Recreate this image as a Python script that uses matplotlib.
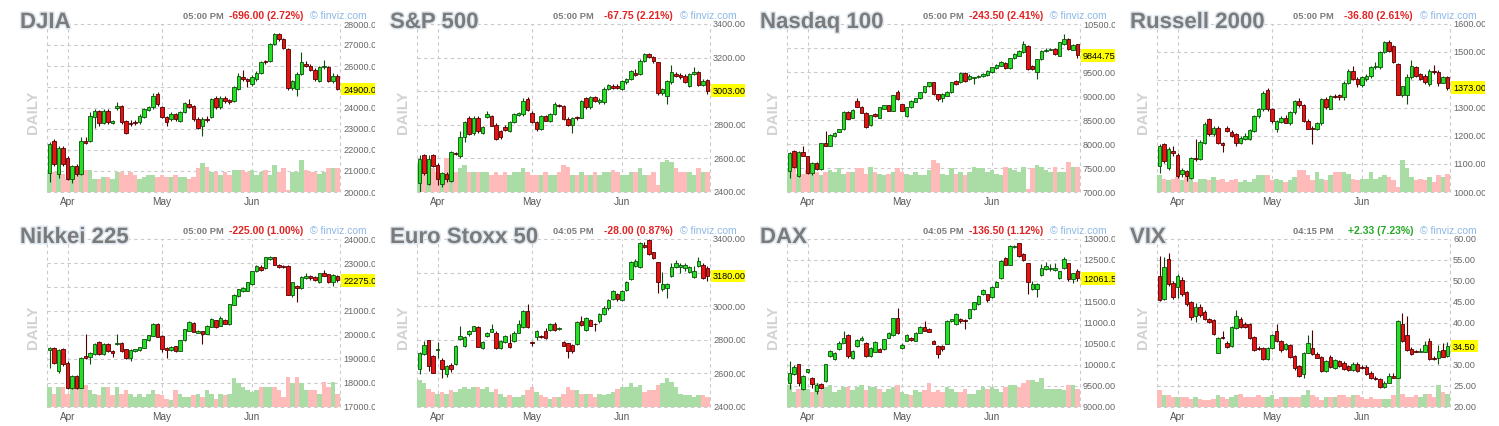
import matplotlib
matplotlib.use('Agg')
import matplotlib.pyplot as plt
import matplotlib.transforms as mtrans
import matplotlib.patheffects as pe
import numpy as np

W, H = 1499, 427
plt.rcParams['font.family'] = ['Liberation Sans', 'DejaVu Sans']

# ---------------- data ----------------
months = ['Apr', 'May', 'Jun']
month_idx = [4, 25, 45]

names = ['DJIA', 'S&P 500', 'Nasdaq 100', 'Russell 2000',
         'Nikkei 225', 'Euro Stoxx 50', 'DAX', 'VIX']
times = ['05:00 PM', '05:00 PM', '05:00 PM', '05:00 PM',
         '05:00 PM', '04:05 PM', '04:05 PM', '04:15 PM']
changes = ['-696.00 (2.72%)', '-67.75 (2.21%)', '-243.50 (2.41%)', '-36.80 (2.61%)',
           '-225.00 (1.00%)', '-28.00 (0.87%)', '-136.50 (1.12%)', '+2.33 (7.23%)']
y_min = [20000, 2400, 7000, 1000, 17000, 2400, 9000, 20]
y_max = [28000, 3400, 10500, 1600, 24000, 3400, 13000, 60]
y_step = [1000, 200, 500, 100, 1000, 200, 500, 5]

djia_open = [20925,22435,20846,22117,21640,20607,21243,20846,22435,22435,23550,23850,23300,23866,23300,24000,24104,23390,23300,23330,23310,23548,23914,24025,24660,24025,23548,23469,23708,23390,23787,24184,24104,23469,23150,23500,23548,24470,24025,24470,24375,24343,24900,25456,25376,25138,25376,25663,26235,26251,27046,27523,27284,26807,24931,24900,25615,26092,26013,25822,25300,25930,25933,25297,25536]
djia_high = [22400,22500,22200,22200,21700,21300,21350,22600,22600,23787,23950,23900,23950,23950,23450,24300,24150,23450,23450,23450,23700,24000,24100,24700,24750,24100,23600,23800,23750,23850,24300,24450,24150,23550,23550,23600,24500,24550,24550,24550,24450,25050,25650,25800,25450,25550,25750,26250,26300,27100,27550,27560,27350,26850,25350,25700,26650,26250,26100,25900,26000,26300,26000,25650,25600]
djia_low = [20480,21250,20686,21250,20550,20450,20750,20800,22300,22400,23050,23150,23250,23250,23250,23900,23250,22750,23150,23200,23250,23500,23850,23950,24100,23500,23150,23400,23400,23350,23750,24000,23400,23000,22670,23350,23500,23950,23950,24250,24200,24300,24850,25300,25000,25050,25300,25600,26100,26200,27000,27200,26800,24850,24850,24580,25550,25950,25750,25300,25250,25850,25250,25200,24850]
djia_close = [22276,21323,22117,21323,20607,21243,20846,22435,22350,23628,23866,23300,23866,23310,23380,24104,23310,22833,23250,23280,23628,23945,24025,24582,24184,23548,23310,23708,23469,23787,24232,24025,23469,23071,23469,23450,24423,24025,24470,24311,24295,24979,25504,25400,25297,25456,25663,26172,26172,27046,27523,27284,26839,24931,25300,25615,26172,26013,25822,25376,25933,26000,25297,25536,24900]
djia_vol = [12,12,12,11,8,12,15,15,13,13,8,8,9,9,8,12,12,10,12,10,8,9,10,10,9,10,9,9,10,9,9,8,9,14,17,15,12,12,10,12,10,13,13,13,12,13,10,12,13,10,16,12,14,1,12,12,19,13,12,12,11,12,14,14,14]

sp_open = [2456,2619,2446,2619,2559,2446,2505,2466,2635,2615,2730,2843,2754,2843,2754,2849,2853,2798,2764,2784,2764,2814,2857,2863,2953,2873,2814,2774,2853,2823,2863,2917,2913,2837,2798,2845,2843,2957,2903,2963,2935,2933,3012,3032,3030,3012,3052,3072,3108,3102,3181,3221,3201,3171,2988,2973,3052,3102,3096,3092,3032,3102,3116,3036,3068]
sp_high = [2620,2625,2620,2625,2570,2520,2520,2645,2640,2764,2820,2850,2850,2850,2790,2880,2860,2810,2770,2800,2820,2870,2875,2960,2963,2880,2820,2860,2860,2870,2935,2925,2920,2845,2845,2855,2950,2965,2970,2970,2960,3025,3045,3045,3045,3068,3080,3128,3130,3190,3228,3228,3210,3175,3020,3065,3155,3115,3110,3100,3110,3142,3122,3075,3075]
sp_low = [2396,2500,2440,2550,2440,2430,2460,2460,2620,2600,2700,2740,2740,2750,2745,2840,2790,2710,2715,2765,2760,2810,2850,2855,2880,2810,2764,2770,2820,2815,2860,2905,2830,2790,2754,2830,2840,2895,2895,2935,2925,2925,3005,3015,3015,3005,3045,3065,3090,3095,3175,3195,3170,2980,2975,2925,3045,3085,3075,3050,3025,3095,3030,3030,2985]
sp_close = [2599,2511,2599,2555,2476,2515,2476,2639,2625,2730,2814,2744,2843,2764,2784,2867,2794,2718,2730,2770,2814,2863,2873,2943,2889,2814,2774,2853,2823,2863,2923,2909,2837,2798,2843,2838,2943,2903,2963,2943,2950,3016,3036,3022,3020,3062,3072,3122,3096,3181,3221,3201,3181,2988,3012,3062,3112,3092,3082,3052,3102,3116,3036,3062,3003]
sp_vol = [16,14,12,14,12,10,20,18,12,14,16,12,12,12,12,12,10,12,10,12,10,12,12,14,12,10,10,10,12,10,10,12,16,15,10,10,12,10,10,12,10,12,12,13,12,10,10,12,12,14,10,10,12,4,18,19,18,14,12,12,12,10,14,12,12]

nq_open = [7438,7856,7334,7835,7752,7404,7612,7473,8016,7960,8169,8253,8308,8677,8552,8900,8781,8656,8392,8621,8552,8726,8809,8691,9074,8830,8587,8761,8879,8948,9074,9199,9282,9039,8948,9004,9074,9317,9282,9477,9352,9366,9387,9408,9435,9491,9575,9630,9686,9575,9783,9839,9909,10048,9620,9491,9769,9929,9964,9978,9839,10083,10187,9964,10083]
nq_high = [7830,7880,7850,7960,7760,7620,7625,8030,8274,8200,8240,8320,8690,8690,8720,8950,8790,8670,8610,8640,8780,8820,8820,9030,9130,8840,8770,8910,8960,9090,9210,9300,9300,9050,9060,9100,9300,9330,9490,9490,9460,9400,9440,9480,9540,9610,9660,9720,9700,9800,9890,9960,10140,10070,9640,9780,9960,9990,10000,9990,10130,10291,10200,10080,10090]
nq_low = [7285,7500,7320,7740,7380,7348,7460,7460,7950,7950,8150,8240,8300,8520,8540,8770,8640,8340,8380,8560,8540,8720,8680,8680,8920,8680,8560,8750,8870,8940,9060,9190,9030,8900,8880,8990,9060,9230,9270,9300,9330,9250,9370,9390,9420,9480,9560,9620,9560,9560,9770,9830,9900,9540,9540,9350,9760,9920,9950,9860,9830,10070,9960,9950,9800]
nq_close = [7807,7529,7835,7752,7390,7612,7473,8016,7960,8183,8225,8308,8677,8531,8705,8781,8656,8364,8600,8573,8761,8809,8691,9018,8934,8691,8761,8900,8948,9074,9199,9282,9039,8934,9039,9074,9282,9248,9477,9317,9408,9387,9420,9456,9526,9595,9644,9700,9575,9783,9874,9943,10083,9561,9570,9769,9943,9964,9978,9874,10117,10187,9978,10062,9844.75]
nq_vol = [14,15,11,11,13,11,12,10,12,13,12,14,11,12,12,14,14,11,15,12,11,10,11,12,14,12,11,10,12,10,10,13,19,17,11,10,14,11,12,10,12,15,14,14,12,13,11,10,15,14,13,12,15,2,14,16,15,13,12,15,12,12,18,15,15]

rut_open = [1093,1171,1087,1147,1131,1063,1075,1050,1123,1119,1176,1262,1206,1230,1176,1227,1215,1206,1176,1191,1191,1218,1270,1296,1365,1296,1224,1250,1266,1248,1284,1326,1310,1254,1230,1224,1246,1332,1298,1344,1346,1338,1391,1433,1403,1382,1403,1413,1445,1445,1499,1537,1520,1457,1346,1346,1409,1445,1420,1415,1385,1433,1429,1391,1409]
rut_high = [1170,1175,1160,1165,1140,1085,1080,1125,1188,1185,1250,1265,1235,1235,1180,1235,1220,1210,1200,1210,1225,1275,1300,1360,1370,1300,1258,1270,1275,1290,1330,1335,1315,1260,1235,1250,1335,1340,1348,1350,1350,1395,1440,1450,1410,1415,1420,1450,1465,1505,1540,1542,1525,1460,1380,1420,1470,1450,1425,1420,1440,1455,1435,1415,1415]
rut_low = [1069,1105,1080,1130,1050,1055,1039,1045,1110,1115,1170,1200,1200,1170,1143,1215,1195,1165,1170,1185,1185,1215,1265,1290,1290,1248,1215,1245,1245,1240,1280,1305,1250,1224,1171,1220,1240,1298,1295,1335,1330,1330,1385,1400,1375,1375,1398,1408,1440,1440,1495,1500,1460,1345,1340,1314,1405,1410,1400,1385,1380,1420,1380,1388,1365]
rut_close = [1165,1111,1153,1138,1057,1079,1057,1123,1117,1179,1242,1206,1230,1176,1167,1218,1200,1176,1194,1200,1221,1272,1296,1355,1296,1254,1254,1266,1248,1284,1326,1310,1254,1224,1224,1246,1332,1302,1344,1338,1338,1391,1433,1403,1385,1409,1413,1445,1451,1499,1534,1505,1463,1346,1377,1409,1451,1415,1403,1394,1433,1427,1391,1409,1373]
rut_vol = [10,8,7,8,9,7,9,12,6,8,8,7,9,7,8,6,7,8,6,7,6,8,10,10,10,7,8,7,6,7,9,13,13,10,7,12,8,7,10,12,12,12,11,8,7,8,8,12,8,9,10,9,7,3,19,14,9,7,8,7,9,6,10,9,11]

nk_open = [19365,19448,18502,19406,18850,17778,18293,17806,19128,19086,19198,19727,19198,19643,19337,19643,19685,19406,19058,19337,19365,19476,19782,19963,20450,19963,19448,19365,19546,19337,19782,20172,20520,20102,20172,20061,20339,20617,20381,20617,20450,21258,21634,21815,21842,22121,22650,22845,22789,23165,23234,22928,22886,22886,21675,22051,21954,22371,22469,22427,22190,22566,22538,22190,22469]
nk_high = [19500,19500,19400,19450,18900,18350,18320,19100,20033,19300,19650,19750,19660,19680,19360,20033,19700,19420,19420,19420,19520,19840,20020,20520,20500,19980,19500,19560,19560,19800,20260,20600,20560,20200,20180,20420,20700,20640,20780,20650,21300,21700,21930,21980,22210,22680,22920,22900,23260,23300,23260,22950,22920,22900,22200,22100,22440,22600,22500,22450,22600,22700,22560,22550,22520]
nk_low = [18641,18800,18400,18700,17750,17750,17750,17780,19000,18800,19150,19150,19150,19300,19100,19600,19300,18980,18900,19300,19350,19460,19760,19940,19900,19300,19058,19340,19300,19320,19760,20150,20120,20080,19643,20040,20320,20300,20360,20440,20430,21240,21600,21800,21820,22100,22630,22680,22770,23140,22900,22800,22800,21650,21600,21355,21930,22350,22300,22250,22170,22440,22150,22050,22200]
nk_close = [19448,18850,19365,18780,17778,18293,17778,19058,19031,19267,19615,19198,19643,19337,19267,19685,19337,19031,19365,19406,19504,19824,20005,20450,19921,19406,19365,19504,19337,19782,20242,20562,20144,20172,20061,20381,20659,20339,20729,20450,21286,21675,21912,21954,22190,22650,22886,22705,23234,23234,22928,22817,22817,21675,22190,21954,22427,22469,22371,22288,22566,22469,22190,22497,22275]
nk_vol = [12,8,12,12,8,12,16,17,13,10,8,7,12,12,7,12,8,10,8,6,8,6,8,10,8,7,5,4,10,8,6,6,7,8,6,10,8,5,8,7,8,17,14,12,10,9,10,12,12,12,12,10,6,18,14,18,14,10,10,10,8,15,12,15,8]

sx_open = [2625,2718,2798,2704,2740,2678,2595,2651,2655,2804,2764,2833,2853,2877,2750,2823,2849,2843,2750,2784,2778,2790,2843,2877,2969,2784,2814,2823,2853,2857,2897,2865,2784,2778,2770,2774,2909,2857,2917,2897,2909,2953,2988,3042,3072,3036,3096,3161,3241,3235,3366,3394,3320,3261,3102,3108,3181,3231,3231,3227,3201,3171,3241,3247,3227]
sx_high = [2730,2790,2800,2710,2784,2690,2650,2660,2770,2883,2820,2860,2885,2885,2790,2845,2897,2850,2800,2830,2833,2850,2917,2975,3016,2790,2860,2830,2870,2900,2905,2875,2790,2780,2775,2910,2940,2935,2925,2900,2960,3000,3040,3095,3080,3095,3150,3270,3280,3380,3380,3400,3325,3265,3201,3140,3260,3275,3260,3260,3240,3240,3290,3255,3240]
sx_low = [2599,2710,2615,2600,2694,2575,2579,2610,2650,2800,2755,2825,2850,2755,2745,2815,2845,2748,2745,2780,2750,2785,2840,2870,2870,2764,2800,2810,2805,2850,2855,2857,2764,2690,2720,2770,2880,2850,2880,2850,2900,2945,2980,3035,3030,3030,3090,3155,3235,3230,3345,3305,3280,3076,3090,3048,3175,3225,3200,3210,3195,3165,3235,3160,3150]
sx_close = [2724,2770,2645,2605,2748,2625,2645,2625,2764,2823,2814,2853,2883,2758,2784,2843,2863,2750,2794,2823,2760,2843,2893,2969,2877,2778,2853,2814,2810,2893,2857,2869,2764,2734,2734,2903,2889,2929,2883,2893,2953,2992,3036,3088,3042,3088,3142,3261,3271,3374,3354,3311,3287,3142,3132,3132,3235,3255,3247,3247,3231,3211,3271,3167,3180]
sx_vol = [16,14,11,9,8,9,8,10,9,11,12,11,12,12,11,12,9,11,8,6,7,6,6,7,10,12,9,7,6,5,6,6,8,12,10,10,8,8,8,6,8,7,8,9,11,12,12,14,12,13,9,10,10,13,14,17,15,12,8,7,7,6,7,7,6]

dax_open = [9581,9795,10018,9422,9843,9700,9382,9557,9620,10217,10137,10376,10535,10718,10177,10455,10590,10535,10217,10320,10376,10376,10654,10718,11115,10416,10575,10638,10575,10773,10893,10853,10575,10455,10455,10511,11036,10972,11092,11068,11115,11330,11449,11688,11688,11608,11863,12070,12547,12388,12801,12897,12642,12420,11807,11807,12149,12284,12284,12260,12070,12308,12420,12046,12245]
dax_high = [10098,10000,10030,9760,9900,9720,9560,9580,10030,10350,10310,10560,10813,10730,10350,10620,10680,10550,10430,10570,10400,10630,10790,11130,11354,10520,10740,10660,10790,10920,11036,10870,10590,10470,10470,11060,11100,11230,11110,11090,11340,11500,11660,11800,11700,11880,11990,12500,12570,12860,12860,12900,12660,12440,12000,11950,12400,12450,12400,12420,12240,12560,12440,12200,12280]
dax_low = [9422,9760,9500,9400,9800,9460,9318,9440,9600,10200,10120,10360,10520,10177,10150,10440,10580,10200,10200,10300,10300,10360,10640,10700,10750,10380,10560,10580,10560,10760,10800,10780,10500,10177,10340,10500,11020,10960,10990,10860,11100,11310,11430,11670,11500,11590,11850,12050,12370,12370,12780,12580,12480,11700,11780,11608,12130,12270,12250,12240,12050,12290,12000,11950,12000]
dax_close = [9819,9954,9581,9740,9899,9541,9525,9461,10018,10336,10296,10535,10654,10217,10336,10590,10654,10217,10416,10551,10320,10614,10773,11115,10773,10479,10718,10590,10773,10909,10813,10797,10511,10257,10376,11052,11092,11211,11036,11036,11330,11489,11648,11783,11545,11863,11966,12483,12388,12841,12841,12602,12499,11966,11926,11926,12300,12364,12300,12300,12229,12523,12046,12181,12061.5]
dax_vol = [13,9,11,13,11,9,14,10,12,13,9,10,12,12,10,12,13,10,12,12,11,9,11,12,13,9,8,7,10,9,10,14,9,10,9,12,11,9,9,11,8,8,10,12,11,12,11,9,12,13,13,12,14,16,16,15,17,11,11,11,11,10,13,13,11]

vix_open = [51.26,45.69,55.23,49.43,48.47,50.22,47.28,44.90,41.72,43.86,42.51,40.92,40.68,32.97,36.55,35.35,34.56,38.77,40.92,39.73,39.73,36.71,34.16,34.16,31.38,34.16,37.98,35.75,33.77,34.80,32.18,29.79,27.80,32.97,34.16,32.73,31.94,28.60,31.94,29.23,30.98,30.58,29.79,28.76,30.19,29.55,29.55,28.20,27.01,26.61,24.78,25.82,27.40,27.01,39.73,37.18,33.77,33.37,33.21,33.21,35.75,31.78,31.62,33.53,32.18]
vix_high = [56.03,55.79,56.58,49.90,51.70,50.90,47.60,45.20,44.66,44.50,43.00,41.20,41.00,36.70,38.14,35.60,39.20,43.07,41.50,40.30,40.00,37.00,34.50,34.40,34.20,37.50,39.73,36.00,35.20,35.00,32.50,30.10,33.20,37.20,38.30,33.00,32.20,31.20,32.30,31.40,31.20,30.90,30.10,30.80,30.70,30.00,29.90,28.50,27.40,26.90,26.20,28.00,28.20,40.80,42.27,41.72,34.20,33.60,34.10,35.60,36.40,32.20,34.70,35.30,35.40]
vix_low = [45.20,45.40,48.90,45.80,46.00,46.50,44.00,40.80,40.13,41.50,40.60,39.90,37.10,32.80,36.20,34.10,34.30,38.50,38.80,38.90,36.20,33.30,33.50,31.10,31.10,33.90,35.50,33.20,33.50,31.70,28.90,27.20,26.80,32.80,32.40,31.60,28.40,28.40,29.40,29.00,29.60,28.80,28.50,28.50,28.40,29.00,27.70,26.70,26.40,24.60,24.60,25.60,26.80,26.90,35.40,33.30,32.50,33.00,33.00,33.00,31.20,31.10,30.20,31.80,31.90]
vix_close = [45.45,53.24,49.27,46.09,51.26,46.88,44.50,41.48,43.86,41.95,40.92,40.13,37.34,36.39,36.39,34.32,38.93,41.72,39.09,39.09,36.39,33.53,33.77,31.38,34.00,37.18,35.75,33.53,34.96,31.94,29.23,27.40,32.97,35.12,32.57,31.78,28.60,30.98,29.55,31.14,29.79,28.99,28.76,30.19,28.60,29.23,27.96,26.85,26.61,24.78,25.82,27.40,27.01,40.52,35.75,33.53,32.73,33.21,33.37,34.80,31.38,31.38,33.37,31.94,34.50]
vix_vol = [10,7,7,6,6,6,6,5,6,5,4,4,5,7,6,5,6,7,8,6,6,6,7,6,6,7,5,6,6,6,6,6,7,10,7,6,4,6,6,6,7,7,6,7,7,6,5,6,5,5,5,5,7,18,8,6,6,7,6,8,8,6,13,9,8]

series = [
    (djia_open, djia_high, djia_low, djia_close, djia_vol),
    (sp_open, sp_high, sp_low, sp_close, sp_vol),
    (nq_open, nq_high, nq_low, nq_close, nq_vol),
    (rut_open, rut_high, rut_low, rut_close, rut_vol),
    (nk_open, nk_high, nk_low, nk_close, nk_vol),
    (sx_open, sx_high, sx_low, sx_close, sx_vol),
    (dax_open, dax_high, dax_low, dax_close, dax_vol),
    (vix_open, vix_high, vix_low, vix_close, vix_vol),
]

# ---------------- style ----------------
GREEN, GREEN_EDGE = '#22e022', '#0d4d0d'
RED, RED_EDGE = '#e81212', '#4d0000'
VOL_GREEN, VOL_RED = '#a9dda5', '#ffbaba'
GRID = '#c9c9c9'
COL, ROW = 370, 215
PL, PR, PT, PB = 47, 340, 25, 193


def frect(x, y, w, h):
    return [x / W, 1 - (y + h) / H, w / W, h / H]


fig = plt.figure(figsize=(W / 100, H / 100), dpi=100)
fig.patch.set_facecolor('white')

for k in range(8):
    o, h, l, c, v = [np.asarray(a, dtype=float) for a in series[k]]
    n = min(len(o), len(h), len(l), len(c), len(v))
    o, h, l, c, v = o[:n], h[:n], l[:n], c[:n], v[:n]
    x = np.arange(n)
    xlim = (-0.56, n - 0.44)
    col, row = k % 4, k // 4
    cx, ry = COL * col, ROW * row
    rect = frect(cx + PL, ry + PT, PR - PL, PB - PT)
    ticks = np.arange(y_min[k], y_max[k] + y_step[k] / 2, y_step[k])

    # grid layer
    axg = fig.add_axes(rect)
    axg.set_xlim(*xlim)
    axg.set_ylim(y_min[k], y_max[k])
    axg.axis('off')
    for t in ticks:
        axg.axhline(t, color=GRID, lw=0.8, ls=(0, (3, 3)), clip_on=False)
    for xv in [xlim[0], xlim[1]] + month_idx:
        axg.axvline(xv, color=GRID, lw=0.8, ls=(0, (3, 3)), clip_on=False)

    up = c >= o
    # volume layer
    axv = fig.add_axes(rect)
    axv.set_xlim(*xlim)
    axv.set_ylim(0, 100)
    axv.axis('off')
    axv.bar(x, v, width=1.0, color=np.where(up, VOL_GREEN, VOL_RED), linewidth=0)

    # price layer
    ax = fig.add_axes(rect)
    ax.set_xlim(*xlim)
    ax.set_ylim(y_min[k], y_max[k])
    ax.axis('off')
    edge = np.where(up, GREEN_EDGE, RED_EDGE)
    fill = np.where(up, GREEN, RED)
    ax.vlines(x, l, h, colors=edge, lw=0.8, zorder=2)
    body_h = np.maximum(np.abs(c - o), (y_max[k] - y_min[k]) * 0.004)
    ax.bar(x, body_h, bottom=np.minimum(o, c), width=0.72, color=fill,
           edgecolor=edge, linewidth=0.6, zorder=3)

    # text layer
    hh = ROW if row == 0 else H - ROW
    bg = fig.add_axes(frect(cx, ry, 375, hh))
    bg.set_xlim(0, 375)
    bg.set_ylim(hh, 0)
    bg.axis('off')
    bg.text(20, 29, names[k], fontsize=16, fontweight='bold', color='#7b7b7b',
            va='baseline', ha='left', clip_on=True,
            path_effects=[pe.withStroke(linewidth=2.2, foreground='#dfe7ef')])
    bg.text(183, 19, times[k], fontsize=6.7, fontweight='bold', color='#7a7a7a',
            va='baseline', ha='left')
    chg_color = '#24a824' if changes[k].startswith('+') else '#e02424'
    bg.text(303, 19, changes[k], fontsize=7.5, fontweight='bold', color=chg_color,
            va='baseline', ha='right')
    bg.text(310, 19, '\u00a9 finviz.com', fontsize=7.5, color='#8db8e6',
            va='baseline', ha='left', clip_on=True)
    bg.text(33, 112, 'DAILY', rotation=90, fontsize=10.8, fontweight='bold',
            color='#d2d2d2', ha='center', va='center')

    ty = mtrans.blended_transform_factory(bg.transData, ax.transData)
    px_per_unit = (PB - PT) / (y_max[k] - y_min[k])
    for t in ticks:
        if abs(t - c[-1]) * px_per_unit < 8.5:
            continue  # covered by the last-price box
        bg.text(343, t, '%.2f' % t, transform=ty, fontsize=6.6, color='#666666',
                va='center', ha='left', clip_on=True)
    bg.text(343, c[-1], '%.2f' % c[-1], transform=ty, fontsize=6.6, color='black',
            va='center', ha='left', clip_on=True, zorder=5,
            bbox=dict(boxstyle='square,pad=0.2', fc='#ffff00', ec='none'))

    tx = mtrans.blended_transform_factory(ax.transData, bg.transData)
    for m, mi in zip(months, month_idx):
        bg.text(mi, 205, m, transform=tx, fontsize=7.2, color='#555555',
                ha='center', va='baseline')

fig.savefig('out.png', dpi=100, facecolor='white')
